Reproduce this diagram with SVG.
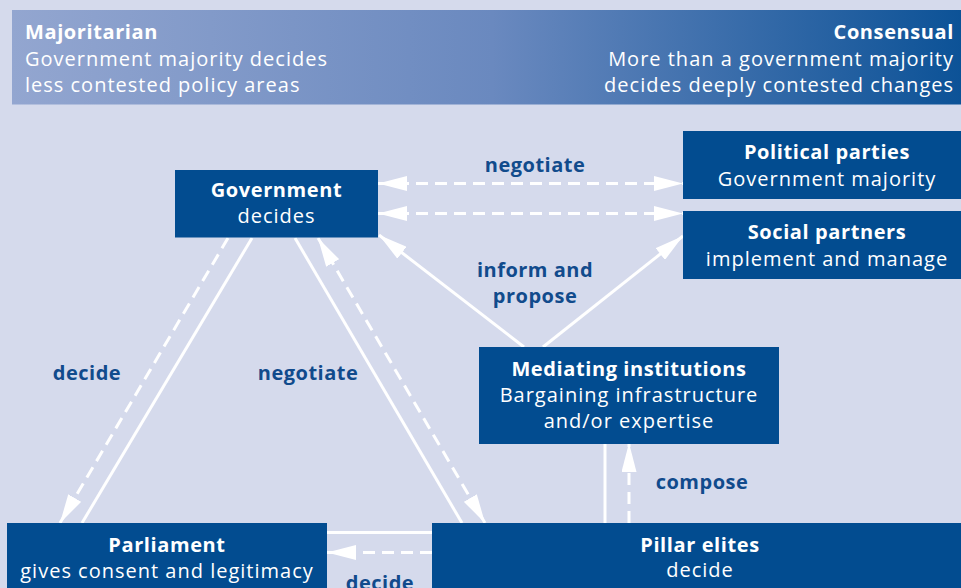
<svg xmlns="http://www.w3.org/2000/svg" width="961" height="588" viewBox="0 0 961 588">
  <defs>
    <linearGradient id="bannerFill" x1="0" y1="0" x2="1" y2="0">
      <stop offset="0" stop-color="#93a6d0"/>
      <stop offset="0.5" stop-color="#6a89bf"/>
      <stop offset="1" stop-color="#0a5196"/>
    </linearGradient>
    <marker id="head" markerUnits="userSpaceOnUse" viewBox="0 0 29 15" markerWidth="29" markerHeight="15" refX="29" refY="7.5" orient="auto-start-reverse">
      <path d="M0,0 L29,7.5 L0,15 Z" fill="#ffffff"/>
    </marker>
    <style>
      .bg { fill: #d5daec; }
      .node { fill: #024c90; }
      .hd { font-family: "Open Sans", "DejaVu Sans", sans-serif; font-weight: 700; font-size: 20px; fill: #ffffff; letter-spacing: 0.6px; }
      .tx { font-family: "Open Sans", "DejaVu Sans", sans-serif; font-weight: 400; font-size: 20px; fill: #ffffff; letter-spacing: 1px; }
      .lb { font-family: "Open Sans", "DejaVu Sans", sans-serif; font-weight: 700; font-size: 20px; fill: #114b8c; letter-spacing: 0.5px; text-anchor: middle; }
      .mid { text-anchor: middle; }
      .end { text-anchor: end; }
      .solid { stroke: #ffffff; stroke-width: 3; fill: none; }
      .dash { stroke: #ffffff; stroke-width: 3; fill: none; stroke-dasharray: 12 7; }
    </style>
  </defs>

  <rect class="bg" x="0" y="0" width="961" height="588"/>

  <!-- header band: majoritarian vs consensual -->
  <g id="banner">
    <rect x="12" y="10" width="960" height="94.5" fill="url(#bannerFill)"/>
    <text class="hd" x="25" y="38.5">Majoritarian</text>
    <text class="tx" x="25" y="65.5">Government majority decides</text>
    <text class="tx" x="25" y="92">less contested policy areas</text>
    <text class="hd end" x="954" y="38.5">Consensual</text>
    <text class="tx end" x="954" y="65.5">More than a government majority</text>
    <text class="tx end" x="954" y="92">decides deeply contested changes</text>
  </g>

  <!-- connectors -->
  <g id="connectors">
    <!-- government <-> political parties / social partners -->
    <line class="dash" x1="378" y1="183.5" x2="683" y2="183.5" marker-start="url(#head)" marker-end="url(#head)"/>
    <line class="dash" x1="378" y1="213.5" x2="683" y2="213.5" marker-start="url(#head)" marker-end="url(#head)"/>
    <!-- mediating institutions inform and propose -->
    <line class="solid" x1="524" y1="347" x2="379" y2="235" marker-end="url(#head)"/>
    <line class="solid" x1="543" y1="347" x2="683" y2="236" marker-end="url(#head)"/>
    <!-- government -> parliament -->
    <line class="dash" x1="228" y1="238" x2="60" y2="523" marker-end="url(#head)"/>
    <line class="solid" x1="252" y1="238" x2="82" y2="523"/>
    <!-- government <-> pillar elites -->
    <line class="solid" x1="295" y1="238" x2="462" y2="523"/>
    <line class="dash" x1="318" y1="238" x2="485" y2="523" marker-start="url(#head)" marker-end="url(#head)"/>
    <!-- pillar elites -> mediating institutions -->
    <line class="solid" x1="605" y1="443" x2="605" y2="523"/>
    <line class="dash" x1="629" y1="523" x2="629" y2="443" marker-end="url(#head)"/>
    <!-- pillar elites -> parliament -->
    <line class="solid" x1="327" y1="532.5" x2="432" y2="532.5"/>
    <line class="dash" x1="432" y1="552.5" x2="327" y2="552.5" marker-end="url(#head)"/>
  </g>

  <!-- connector labels -->
  <g id="labels">
    <text class="lb" x="535" y="172">negotiate</text>
    <text class="lb" x="535" y="277">inform and</text>
    <text class="lb" x="535" y="303">propose</text>
    <text class="lb" x="87" y="380">decide</text>
    <text class="lb" x="308" y="380">negotiate</text>
    <text class="lb" x="702" y="488.5">compose</text>
    <text class="lb" x="380" y="590">decide</text>
  </g>

  <g id="government">
    <rect class="node" x="175" y="170" width="203" height="67.5"/>
    <text class="hd mid" x="276.5" y="196.5">Government</text>
    <text class="tx mid" x="276.5" y="222.5">decides</text>
  </g>

  <g id="political-parties">
    <rect class="node" x="683" y="131" width="290" height="68"/>
    <text class="hd mid" x="827" y="159">Political parties</text>
    <text class="tx mid" x="827" y="185.5">Government majority</text>
  </g>

  <g id="social-partners">
    <rect class="node" x="683" y="211" width="290" height="68"/>
    <text class="hd mid" x="827" y="239">Social partners</text>
    <text class="tx mid" x="827" y="265.5">implement and manage</text>
  </g>

  <g id="mediating-institutions">
    <rect class="node" x="479" y="347" width="300" height="97"/>
    <text class="hd mid" x="629" y="375.5">Mediating institutions</text>
    <text class="tx mid" x="629" y="401.5">Bargaining infrastructure</text>
    <text class="tx mid" x="629" y="428">and/or expertise</text>
  </g>

  <g id="parliament">
    <rect class="node" x="7" y="523" width="320" height="80"/>
    <text class="hd mid" x="167" y="552">Parliament</text>
    <text class="tx mid" x="167" y="578">gives consent and legitimacy</text>
  </g>

  <g id="pillar-elites">
    <rect class="node" x="432" y="523" width="540" height="80"/>
    <text class="hd mid" x="700" y="551.5">Pillar elites</text>
    <text class="tx mid" x="700" y="576.5">decide</text>
  </g>
</svg>
